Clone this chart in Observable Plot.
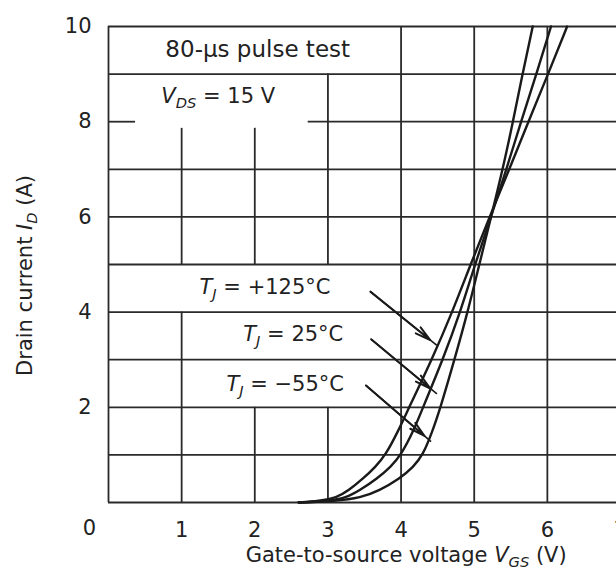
<!DOCTYPE html>
<html>
<head>
<meta charset="utf-8">
<script src="https://cdn.jsdelivr.net/npm/d3@7"></script>
<script src="https://cdn.jsdelivr.net/npm/@observablehq/plot@0.6"></script>
<style>
  html, body { margin: 0; padding: 0; background: #fff; overflow: hidden; }
</style>
</head>
<body>
<div id="chart"></div>
<script>
// ---- data ----
const idLevels = [0, 0.03, 0.1, 0.25, 0.5, 0.75, 1, 1.5, 2, 3, 4, 5, 6, 7, 8, 9, 10];   // drain current, A
const vgs125  = [2.6, 2.88, 3.12, 3.28, 3.48, 3.65, 3.79, 3.96, 4.11, 4.42, 4.70, 4.95, 5.21, 5.48, 5.74, 6.01, 6.27];
const vgs25   = [2.6, 3.00, 3.25, 3.43, 3.67, 3.86, 4.00, 4.17, 4.30, 4.57, 4.81, 5.01, 5.23, 5.44, 5.64, 5.85, 6.05];
const vgsM55  = [2.6, 3.10, 3.45, 3.70, 3.98, 4.17, 4.30, 4.43, 4.54, 4.73, 4.91, 5.07, 5.23, 5.39, 5.53, 5.66, 5.80];
const seriesNames = ["+125°C", "25°C", "−55°C"];

const xTicks = [1, 2, 3, 4, 5, 6, 7];
const yTicks = [2, 4, 6, 8, 10];
const xDomain = [0, 7];
const yDomain = [0, 10];

// grid segments (data units), with gaps where annotations sit
const gridVx    = [0, 1, 1, 2, 2, 3, 3, 4, 5, 6, 7];
const gridVfrom = [0, 0, 5, 0, 5, 0, 5, 0, 0, 0, 0];
const gridVto   = [10, 4, 7.86, 2, 7.86, 2, 9, 10, 10, 10, 10];
const gridHy    = [0, 1, 2, 3, 4, 5, 6, 7, 8, 8, 9, 10];
const gridHfrom = [0, 0, 0, 0, 0, 0, 0, 0, 0, 2.73, 0, 0];
const gridHto   = [7, 7, 7, 7, 7, 7, 7, 7, 0.37, 7, 7, 7];

// annotations (data units)
const noteText   = ["80-µs pulse test", "VDS = 15 V", "TJ = +125°C", "TJ = 25°C", "TJ = −55°C", "0"];
const noteX      = [2.04, 1.50, 3.035, 3.21, 3.22, -0.26];
const noteY      = [9.52, 8.54, 4.52, 3.53, 2.48, -0.54];
const noteAnchor = ["middle", "middle", "end", "end", "end", "middle"];
const noteSize   = [23, 21, 21, 21, 21, 21];

const arrowX1 = [3.58, 3.59, 3.52];
const arrowY1 = [4.43, 3.43, 2.46];
const arrowX2 = [4.49, 4.49, 4.41];
const arrowY2 = [3.30, 2.28, 1.28];

const yLabel = "Drain current ID (A)";
const xLabel = "Gate-to-source voltage VGS (V)";
const yLabelPos = [-1.135, 4.77];
const xLabelPos = [4.07, -1.11];

// ---- build tables ----
const curves = [vgs125, vgs25, vgsM55].flatMap((vs, k) =>
  vs.map((v, i) => ({vgs: v, id: idLevels[i], T: seriesNames[k]})));
const vGrid = gridVx.map((x, i) => ({x, y1: gridVfrom[i], y2: gridVto[i]}));
const hGrid = gridHy.map((y, i) => ({y, x1: gridHfrom[i], x2: gridHto[i]}));
const notes = noteText.map((t, i) => ({t, x: noteX[i], y: noteY[i], a: noteAnchor[i], s: noteSize[i]}));
const arrows = arrowX1.map((x1, i) => {
  const y1 = arrowY1[i], x2 = arrowX2[i], y2 = arrowY2[i];
  return {x1, y1, x2, y2, hx: x1 + 0.9 * (x2 - x1), hy: y1 + 0.9 * (y2 - y1)};
});

const ink = "#1a1a1a";
const gridInk = "#2a2a2a";

const svg = Plot.plot({
  width: 616,
  height: 583,
  marginLeft: 108,
  marginRight: 0,
  marginTop: 26,
  marginBottom: 81,
  style: {fontFamily: "'DejaVu Sans', sans-serif", fontSize: "21px", color: "#222", background: "#fff"},
  x: {domain: xDomain, range: [108, 620], ticks: xTicks, tickFormat: d => String(d), tickSize: 0, tickPadding: 20, label: null},
  y: {domain: yDomain, range: [502, 26], ticks: yTicks, tickFormat: d => String(d), tickSize: 0, tickPadding: 17, label: null},
  marks: [
    Plot.ruleX(vGrid, {x: "x", y1: "y1", y2: "y2", stroke: gridInk, strokeWidth: 1.8}),
    Plot.ruleY(hGrid, {y: "y", x1: "x1", x2: "x2", stroke: gridInk, strokeWidth: 1.8}),
    Plot.line(curves, {x: "vgs", y: "id", z: "T", curve: "basis", stroke: ink, strokeWidth: 2.4}),
    Plot.link(arrows, {x1: "x1", y1: "y1", x2: "x2", y2: "y2", stroke: ink, strokeWidth: 1.6}),
    Plot.arrow(arrows, {x1: "x1", y1: "y1", x2: "hx", y2: "hy", stroke: ink, strokeWidth: 2, headLength: 12, headAngle: 28}),
    Plot.text(notes.filter(d => d.a === "middle"), {x: "x", y: "y", text: "t", fontSize: "s", textAnchor: "middle", fill: "#222"}),
    Plot.text(notes.filter(d => d.a === "end"), {x: "x", y: "y", text: "t", fontSize: "s", textAnchor: "end", fill: "#222"}),
    Plot.text([yLabel], {x: () => yLabelPos[0], y: () => yLabelPos[1], text: d => d, rotate: -90, fill: "#222"}),
    Plot.text([xLabel], {x: () => xLabelPos[0], y: () => xLabelPos[1], text: d => d, fill: "#222"})
  ]
});

// rich text: italics and subscripts
const rich = {
  "VDS = 15 V": [["V", "i"], ["DS", "s"], [" = 15 V"]],
  "TJ = +125°C": [["T", "i"], ["J", "s"], [" = +125°C"]],
  "TJ = 25°C": [["T", "i"], ["J", "s"], [" = 25°C"]],
  "TJ = −55°C": [["T", "i"], ["J", "s"], [" = −55°C"]],
  "Drain current ID (A)": [["Drain current "], ["I", "i"], ["D", "s"], [" (A)"]],
  "Gate-to-source voltage VGS (V)": [["Gate-to-source voltage "], ["V", "i"], ["GS", "s"], [" (V)"]]
};
svg.querySelectorAll("text").forEach(t => {
  const spec = rich[t.textContent];
  if (!spec) return;
  t.textContent = "";
  let shifted = false;
  for (const [s, kind] of spec) {
    const ts = document.createElementNS("http://www.w3.org/2000/svg", "tspan");
    ts.textContent = s;
    if (kind === "i" || kind === "s") ts.setAttribute("font-style", "italic");
    if (kind === "s") { ts.setAttribute("font-size", "70%"); ts.setAttribute("dy", "5"); shifted = true; }
    else if (shifted) { ts.setAttribute("dy", "-5"); shifted = false; }
    t.appendChild(ts);
  }
});

document.getElementById("chart").appendChild(svg);
</script>
</body>
</html>
